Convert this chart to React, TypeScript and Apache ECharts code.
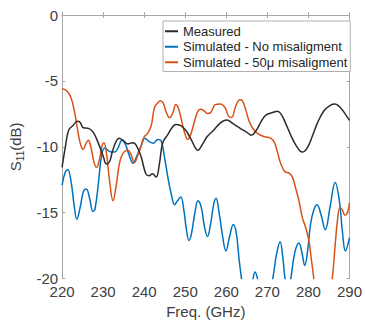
import React, { useEffect, useRef } from "react";
import * as echarts from "echarts";

const seriesNames = ["Measured", "Simulated - No misaligment", "Simulated - 50\u03bc misaligment"];
const seriesColors = ["#2b2b2b", "#0072BD", "#D95319"];

const xTicks = [220, 230, 240, 250, 260, 270, 280, 290];
const yTicks = [0, -5, -10, -15, -20];

const freqMeasured = [220, 220.8, 221.6, 222.6, 223.8, 224.4, 225.2, 226.4, 227.6, 228.8, 230, 230.8, 231.6, 232.4, 233.9, 234.8, 236, 237.2, 238, 239.2, 240.4, 241.2, 242, 242.9, 243.7, 244.5, 245.7, 246.9, 247.7, 248.9, 250.1, 251.3, 252.5, 253.1, 254.1, 255.3, 256.9, 258.5, 260.1, 261.7, 263.3, 264.9, 266.1, 267.3, 268.5, 269.7, 271.3, 272.4, 273.3, 274.5, 275.7, 276.9, 278.5, 279.7, 280.9, 282.1, 283.7, 285.3, 286.5, 287.7, 288.9, 290];
const s11Measured = [-11.56, -10, -8.75, -8.4, -8.07, -8.15, -8.56, -8.6, -8.9, -9.7, -10.7, -11.3, -11.1, -10.2, -9.36, -9.5, -9.78, -9.7, -9.85, -10.7, -12.05, -12.2, -12.05, -12.3, -11.3, -9.7, -9.1, -8.5, -8.3, -8.4, -8.75, -9.36, -10.1, -10.27, -9.85, -9.24, -8.75, -8.2, -7.97, -8.26, -8.58, -8.88, -9.12, -8.75, -8.07, -7.58, -7.4, -7.3, -7.5, -8.26, -9.12, -9.85, -10.4, -10.1, -9.24, -8.26, -7.3, -6.85, -6.75, -7.0, -7.48, -8.0];

const freqNoMis = [220, 220.8, 221.4, 222.2, 223, 223.6, 224.4, 225.2, 225.9, 226.7, 227.5, 228, 228.8, 229.6, 230.4, 231.2, 232, 232.8, 233.6, 234.6, 235.4, 236.4, 237.3, 238.2, 239.2, 240.2, 241.2, 242.2, 243.3, 244.1, 244.9, 245.7, 246.6, 247.4, 248.1, 248.9, 249.7, 250.2, 250.9, 251.5, 252.3, 253.1, 253.9, 254.7, 255.4, 256.2, 256.9, 257.5, 258.2, 259.1, 259.9, 260.8, 261.7, 262.4, 263.1, 263.7, 264.5, 265.5, 266.5, 267, 267.6, 268.5, 270, 271.3, 272.2, 273.1, 273.8, 274.3, 275, 275.7, 276.7, 277.7, 278.4, 279.1, 279.8, 280.5, 281.3, 282.1, 283.1, 284.1, 285.3, 286.5, 287.5, 288.3, 289, 290];
const s11NoMis = [-12.9, -11.9, -11.74, -12.66, -14.6, -15.5, -14.6, -13.4, -13.2, -13.9, -14.9, -14.74, -12.9, -10.7, -10.1, -10.27, -10.4, -10.4, -10.1, -9.5, -9.8, -10.7, -11.25, -10.7, -9.98, -9.36, -9.6, -9.73, -9.44, -9.53, -10.7, -12.2, -13.6, -14.4, -14.1, -13.8, -14.9, -16.1, -17.1, -16.6, -15.1, -14.1, -14.6, -16.1, -16.8, -15.8, -14.4, -13.9, -14.9, -16.8, -17.9, -16.8, -15.9, -16.5, -18.5, -20, -21.5, -21.5, -20, -19.5, -20, -21.5, -21.5, -20, -18.2, -17.2, -18.5, -20, -21, -20, -18, -17.3, -18, -19, -17.9, -15.9, -14.8, -14.4, -15.2, -16.3, -14.5, -12.7, -14, -16.5, -17.9, -16.9];

const freq50 = [220, 221.2, 222.2, 223, 223.8, 224.4, 225.1, 225.9, 226.4, 227, 227.8, 228.4, 229.1, 229.8, 230.2, 230.8, 231.6, 232.4, 233.2, 234, 234.9, 236, 236.8, 237.6, 238.4, 239.2, 240, 240.8, 241.7, 242.5, 243.3, 243.9, 244.6, 245.4, 246.2, 247, 247.7, 248.3, 249.1, 249.9, 250.6, 251.4, 252.3, 253.1, 253.8, 254.7, 255.4, 256.2, 257.3, 258.5, 259.7, 260.5, 261.3, 262.3, 263.3, 263.9, 264.7, 265.5, 266.5, 267.7, 269.3, 270.9, 271.8, 272.5, 273.3, 274.3, 275.3, 276.1, 276.9, 277.7, 278.5, 279.3, 280.1, 280.7, 281.3, 282, 284, 285.8, 286.5, 287.1, 287.7, 288.3, 288.9, 289.5, 290];
const s11_50 = [-5.6, -5.77, -6.3, -7.3, -8.75, -9.7, -10.2, -9.7, -9.5, -10, -11.2, -11.56, -10.95, -9.85, -9.7, -10.46, -12.66, -14.1, -12.9, -11.2, -10.46, -10.27, -10.6, -11.2, -10.7, -9.98, -9.24, -9.0, -8.4, -7.04, -6.67, -6.5, -6.67, -7.4, -7.8, -7.4, -6.8, -7.04, -8.0, -9.0, -9.44, -9.0, -8.0, -7.3, -7.16, -7.3, -7.48, -7.4, -6.8, -6.75, -7.04, -7.65, -7.78, -6.9, -6.43, -6.5, -7.16, -8.0, -8.63, -9.0, -9.24, -9.36, -9.73, -10.46, -11.3, -11.9, -12.0, -12.3, -13.15, -14.1, -15.35, -16.1, -17.1, -18.5, -20, -22, -24, -20, -17.5, -15.5, -14.6, -14.8, -15.2, -15.0, -14.25];

const zip = (xs: number[], ys: number[]) => {
  const n = Math.min(xs.length, ys.length);
  const out: number[][] = [];
  for (let i = 0; i < n; i++) out.push([xs[i], ys[i]]);
  return out;
};

const FONT = "'Liberation Sans', Arial, Helvetica, sans-serif";
const FRAME = "#a6a6a6";
const TEXT = "#404040";

export default function App() {
  const ref = useRef<HTMLDivElement>(null);
  useEffect(() => {
    if (!ref.current) return;
    const chart = echarts.init(ref.current, undefined, { renderer: "svg" });
    const xMin = xTicks[0];
    const xMax = xTicks[xTicks.length - 1];
    const yMin = Math.min(...yTicks);
    const yMax = Math.max(...yTicks);
    const commonX = {
      type: "value" as const,
      min: xMin,
      max: xMax,
      interval: 10,
      splitLine: { show: false },
      axisLine: { show: true, lineStyle: { color: FRAME, width: 1 } },
      axisTick: { show: true, inside: true, length: 3, lineStyle: { color: FRAME } },
    };
    const commonY = {
      type: "value" as const,
      min: yMin,
      max: yMax,
      interval: 5,
      splitLine: { show: false },
      axisLine: { show: true, lineStyle: { color: FRAME, width: 1 } },
      axisTick: { show: true, inside: true, length: 3, lineStyle: { color: FRAME } },
    };
    const allData = [
      zip(freqMeasured, s11Measured),
      zip(freqNoMis, s11NoMis),
      zip(freq50, s11_50),
    ];
    chart.setOption({
      animation: false,
      backgroundColor: "#ffffff",
      textStyle: { fontFamily: FONT },
      grid: { left: 61, right: 12, top: 15, bottom: 39, containLabel: false },
      legend: {
        orient: "vertical",
        left: 163,
        top: 21,
        padding: [3, 3, 2, 2],
        itemGap: 1,
        itemWidth: 13,
        itemHeight: 2,
        icon: "rect",
        backgroundColor: "#ffffff",
        borderColor: "#b0b0b0",
        borderWidth: 1,
        textStyle: { fontFamily: FONT, fontSize: 13, color: "#262626", lineHeight: 14.5 },
        data: seriesNames,
      },
      xAxis: [
        {
          ...commonX,
          position: "bottom",
          axisLabel: { show: true, fontSize: 15, lineHeight: 14, color: TEXT, margin: 6, fontFamily: FONT },
          name: "Freq. (GHz)",
          nameLocation: "middle",
          nameGap: 18,
          nameTextStyle: { fontSize: 15, color: TEXT, fontFamily: FONT },
        },
        { ...commonX, position: "top", axisLabel: { show: false } },
      ],
      yAxis: [
        {
          ...commonY,
          position: "left",
          axisLabel: { show: true, fontSize: 15, lineHeight: 12, color: TEXT, margin: 4, fontFamily: FONT },
          name: "{a|S}{b|11}{a|(dB)}",
          nameLocation: "middle",
          nameGap: 33,
          nameTextStyle: {
            color: TEXT,
            fontFamily: FONT,
            rich: {
              a: { fontSize: 15, color: TEXT, fontFamily: FONT, lineHeight: 20, verticalAlign: "middle" },
              b: { fontSize: 10, color: TEXT, fontFamily: FONT, lineHeight: 20, verticalAlign: "bottom" },
            },
          },
        },
        { ...commonY, position: "right", axisLabel: { show: false } },
      ],
      series: allData.map((d, i) => ({
        name: seriesNames[i],
        type: "line",
        data: d,
        xAxisIndex: 0,
        yAxisIndex: 0,
        showSymbol: false,
        symbol: "none",
        smooth: 0.4,
        clip: true,
        color: seriesColors[i],
        lineStyle: { color: seriesColors[i], width: 1.5 },
        z: i === 0 ? 4 : 3,
      })),
    });
    return () => chart.dispose();
  }, []);
  return (
    <div
      ref={ref}
      style={{ position: "fixed", left: 0, top: 0, width: 365, height: 324 }}
    />
  );
}
